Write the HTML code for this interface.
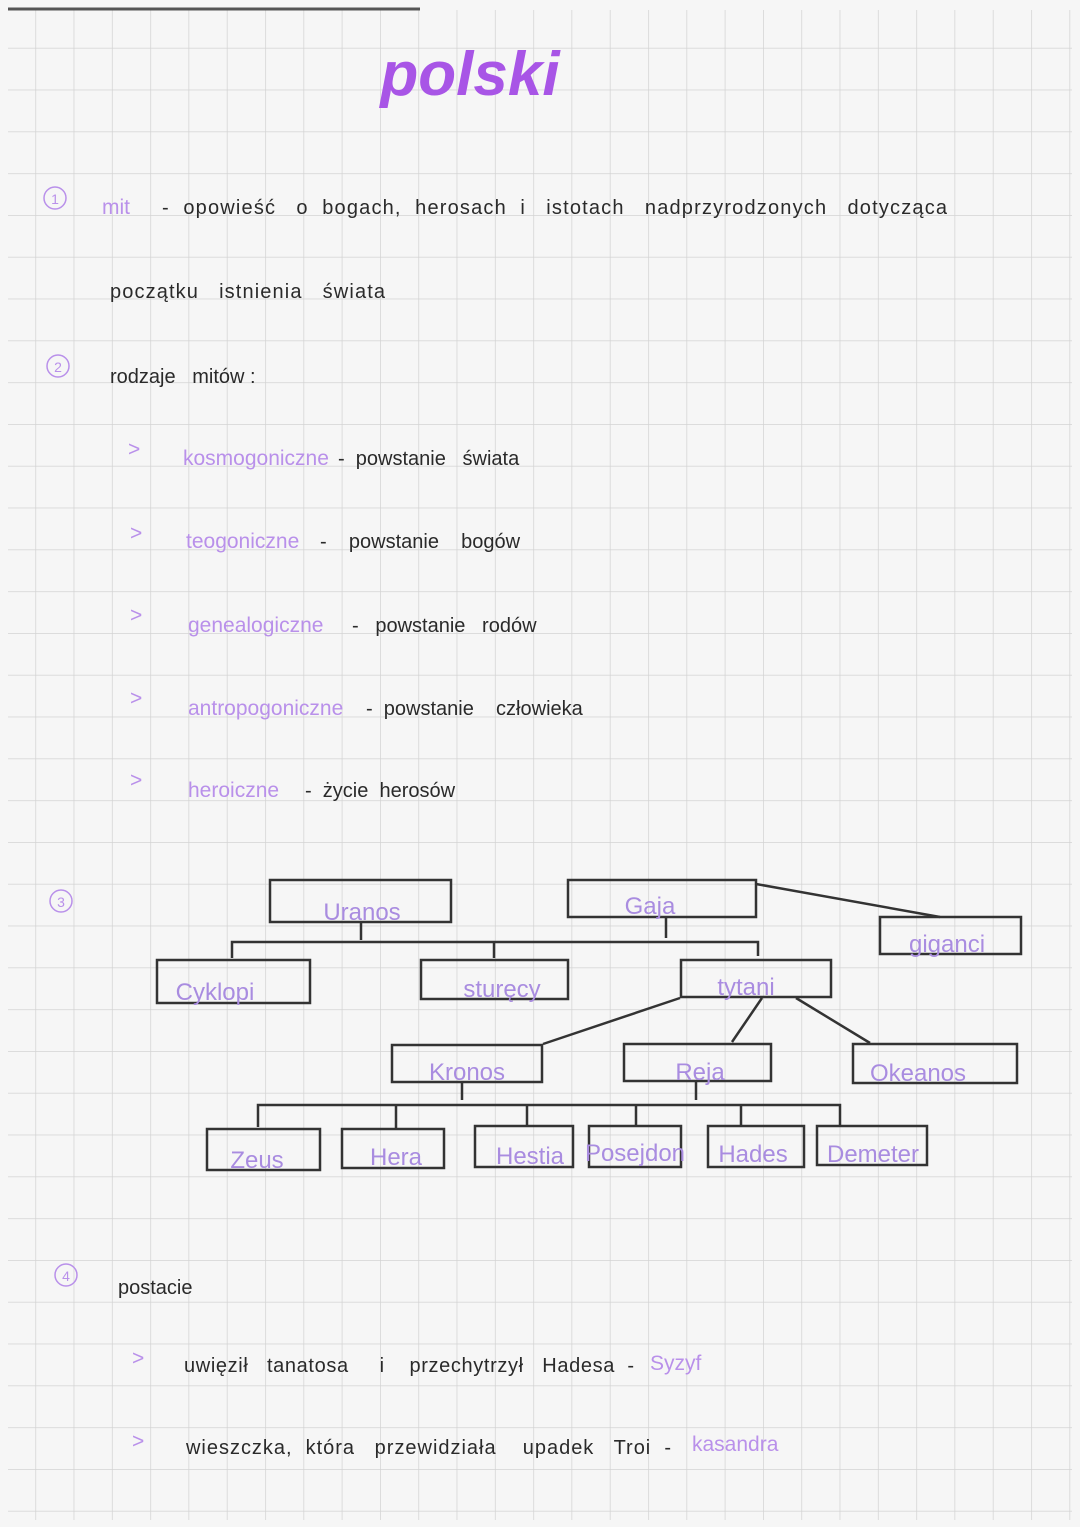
<!DOCTYPE html>
<html><head><meta charset="utf-8"><style>
html,body{margin:0;padding:0;background:#f6f6f6}
svg{display:block}
text{font-family:"Liberation Sans",sans-serif;white-space:pre}
.k{fill:#2a2a2a;font-size:20px}
.p{fill:#b990ea;font-size:21px}
.n{fill:none;stroke:#b990ea;stroke-width:1.5}
.b{fill:none;stroke:#333;stroke-width:2.5}
.l{stroke:#333;stroke-width:2.5;fill:none}
.bp{fill:#a98ce0;font-size:24px;text-anchor:middle}
</style></head><body>
<svg width="1080" height="1527" viewBox="0 0 1080 1527">
<defs><pattern id="g" x="-3" y="6" width="38.3" height="41.8" patternUnits="userSpaceOnUse">
<path d="M0 0V41.8M0 0H38.3" stroke="#d3d3d3" stroke-width="1.5" fill="none"/></pattern></defs>
<rect width="1080" height="1527" fill="#f6f6f6"/>
<rect x="8" y="10" width="1064" height="1510" fill="url(#g)"/>
<line x1="8" y1="9" x2="420" y2="9" stroke="#555" stroke-width="3"/>
<text x="470" y="95" font-size="62" font-weight="bold" fill="#a855e6" text-anchor="middle" font-style="italic">polski</text>

<circle cx="55" cy="198" r="11" class="n"/><text x="55" y="204" font-size="14" fill="#b990ea" text-anchor="middle">1</text>
<text x="102" y="214" class="p">mit</text>
<text x="162" y="214" class="k" textLength="785">-  opowieść   o  bogach,  herosach  i   istotach   nadprzyrodzonych   dotycząca</text>
<text x="110" y="298" class="k" textLength="275">początku   istnienia   świata</text>
<circle cx="58" cy="366" r="11" class="n"/><text x="58" y="372" font-size="14" fill="#b990ea" text-anchor="middle">2</text>
<text x="110" y="383" class="k">rodzaje   mitów :</text>

<text x="128" y="456" class="p">&gt;</text><text x="183" y="465" class="p">kosmogoniczne</text><text x="338" y="465" class="k">-  powstanie   świata</text>
<text x="130" y="540" class="p">&gt;</text><text x="186" y="548" class="p">teogoniczne</text><text x="320" y="548" class="k">-    powstanie    bogów</text>
<text x="130" y="622" class="p">&gt;</text><text x="188" y="632" class="p">genealogiczne</text><text x="352" y="632" class="k">-   powstanie   rodów</text>
<text x="130" y="705" class="p">&gt;</text><text x="188" y="715" class="p">antropogoniczne</text><text x="366" y="715" class="k">-  powstanie    człowieka</text>
<text x="130" y="787" class="p">&gt;</text><text x="188" y="797" class="p">heroiczne</text><text x="305" y="797" class="k">-  życie  herosów</text>

<circle cx="61" cy="901" r="11" class="n"/><text x="61" y="907" font-size="14" fill="#b990ea" text-anchor="middle">3</text>
<rect x="270" y="880" width="181" height="42" class="b"/><text x="362" y="920" class="bp">Uranos</text>
<rect x="568" y="880" width="188" height="37" class="b"/><text x="650" y="914" class="bp">Gaja</text>
<rect x="880" y="917" width="141" height="37" class="b"/><text x="947" y="952" class="bp">giganci</text>
<path class="l" d="M756 884L940 917M361 922V940M666 917V938M232 958V942H758V956M494 942V958"/>
<rect x="157" y="960" width="153" height="43" class="b"/><text x="215" y="1000" class="bp">Cyklopi</text>
<rect x="421" y="960" width="147" height="39" class="b"/><text x="502" y="997" class="bp">sturęcy</text>
<rect x="681" y="960" width="150" height="37" class="b"/><text x="746" y="995" class="bp">tytani</text>
<path class="l" d="M543 1044L680 998M762 998L732 1042M796 998L870 1043"/>
<rect x="392" y="1045" width="150" height="37" class="b"/><text x="467" y="1080" class="bp">Kronos</text>
<rect x="624" y="1044" width="147" height="37" class="b"/><text x="700" y="1080" class="bp">Reja</text>
<rect x="853" y="1044" width="164" height="39" class="b"/><text x="918" y="1081" class="bp">Okeanos</text>
<path class="l" d="M462 1082V1100M696 1081V1100M258 1127V1105H840V1125M396 1105V1128M527 1105V1126M636 1105V1126M741 1105V1126"/>
<rect x="207" y="1129" width="113" height="41" class="b"/><text x="257" y="1168" class="bp">Zeus</text>
<rect x="342" y="1129" width="102" height="39" class="b"/><text x="396" y="1165" class="bp">Hera</text>
<rect x="475" y="1126" width="98" height="41" class="b"/><text x="530" y="1164" class="bp" font-size="22">Hestia</text>
<rect x="589" y="1126" width="92" height="41" class="b"/><text x="635" y="1161" class="bp" font-size="18">Posejdon</text>
<rect x="708" y="1126" width="96" height="41" class="b"/><text x="753" y="1162" class="bp">Hades</text>
<rect x="817" y="1126" width="110" height="39" class="b"/><text x="873" y="1162" class="bp">Demeter</text>

<circle cx="66" cy="1275" r="11" class="n"/><text x="66" y="1281" font-size="14" fill="#b990ea" text-anchor="middle">4</text>
<text x="118" y="1294" class="k" font-size="22">postacie</text>
<text x="132" y="1365" class="p">&gt;</text>
<text x="184" y="1372" class="k" font-size="19" textLength="450">uwięził   tanatosa     i    przechytrzył   Hadesa  -</text><text x="650" y="1370" class="p" font-size="19">Syzyf</text>
<text x="132" y="1448" class="p">&gt;</text>
<text x="186" y="1454" class="k" font-size="19" textLength="485">wieszczka,  która   przewidziała    upadek   Troi  -</text><text x="692" y="1451" class="p" font-size="20">kasandra</text>
</svg>
</body></html>
